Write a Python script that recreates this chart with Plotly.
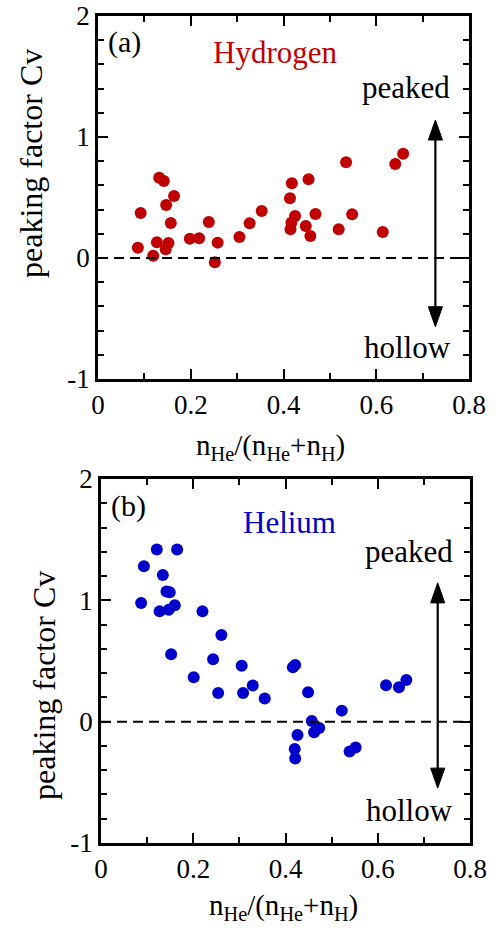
import plotly.graph_objects as go

# ---- data ----
h_x = [0.086, 0.092, 0.119, 0.127, 0.132, 0.142, 0.147, 0.152, 0.146, 0.157, 0.164,
       0.198, 0.218, 0.239, 0.258, 0.252, 0.305, 0.327, 0.353, 0.414, 0.418, 0.415,
       0.417, 0.425, 0.448, 0.454, 0.458, 0.469, 0.519, 0.535, 0.548, 0.614, 0.641, 0.658]
h_y = [0.085, 0.372, 0.019, 0.130, 0.664, 0.636, 0.438, 0.124, 0.072, 0.289, 0.512,
       0.160, 0.163, 0.298, 0.127, -0.036, 0.174, 0.287, 0.388, 0.493, 0.617, 0.237,
       0.292, 0.347, 0.264, 0.650, 0.182, 0.364, 0.237, 0.791, 0.361, 0.215, 0.777, 0.862]

he_x = [0.087, 0.093, 0.121, 0.127, 0.134, 0.142, 0.149, 0.147, 0.160, 0.152, 0.165,
        0.220, 0.201, 0.243, 0.261, 0.254, 0.305, 0.308, 0.329, 0.355, 0.416, 0.421,
        0.426, 0.420, 0.421, 0.449, 0.457, 0.462, 0.473, 0.522, 0.539, 0.552, 0.618,
        0.646, 0.662]
he_y = [0.978, 1.281, 1.419, 0.909, 1.209, 1.072, 1.066, 0.923, 0.959, 0.556, 1.419,
        0.909, 0.366, 0.515, 0.714, 0.237, 0.460, 0.237, 0.298, 0.190, 0.449, 0.468,
        -0.110, -0.226, -0.303, 0.242, 0.006, -0.088, -0.052, 0.091, -0.245, -0.212,
        0.300, 0.284, 0.344]

x_tick_vals = [0, 0.2, 0.4, 0.6, 0.8]
x_tick_text = ["0", "0.2", "0.4", "0.6", "0.8"]
y_tick_vals = [-1, 0, 1, 2]
y_tick_text = ["-1", "0", "1", "2"]

RED = "#c00000"
BLUE = "#0000cc"
FONT = "Liberation Serif, Times New Roman, serif"

W, H = 500, 930
L, T = 98, 16
R = W - 470
B = H - 843
pw, ph = W - L - R, H - T - B


def px_x(p):
    return (p - L) / pw


def px_y(p):
    return (H - B - p) / ph


fig = go.Figure()
fig.add_trace(go.Scatter(x=h_x, y=h_y, mode="markers", xaxis="x", yaxis="y",
                         marker=dict(color=RED, size=12, line=dict(width=0)),
                         showlegend=False))
fig.add_trace(go.Scatter(x=he_x, y=he_y, mode="markers", xaxis="x2", yaxis="y2",
                         marker=dict(color=BLUE, size=12, line=dict(width=0)),
                         showlegend=False))


def xax(domain, anchor):
    return dict(domain=domain, anchor=anchor, range=[0, 0.8], tickvals=x_tick_vals,
                ticktext=x_tick_text, ticks="inside", ticklen=10, tickwidth=2,
                tickcolor="black", showline=True, linecolor="black", linewidth=2.5,
                mirror="ticks", showgrid=False, zeroline=False, automargin=False,
                ticklabeloverflow="allow",
                minor=dict(dtick=0.1, ticks="inside", ticklen=6, tickwidth=2,
                           tickcolor="black", showgrid=False),
                tickfont=dict(family=FONT, size=27, color="black"))


def yax(domain, anchor):
    return dict(domain=domain, anchor=anchor, range=[-1, 2], tickvals=y_tick_vals,
                ticktext=y_tick_text, ticks="inside", ticklen=10, tickwidth=2,
                tickcolor="black", showline=True, linecolor="black", linewidth=2.5,
                mirror="ticks", showgrid=False, zeroline=False, automargin=False,
                ticklabeloverflow="allow",
                minor=dict(dtick=0.2, ticks="inside", ticklen=6, tickwidth=2,
                           tickcolor="black", showgrid=False),
                tickfont=dict(family=FONT, size=27, color="black"))


fig.update_layout(
    template="none",
    width=W, height=H, margin=dict(l=L, r=R, t=T, b=B, pad=0), autosize=False,
    paper_bgcolor="white", plot_bgcolor="white",
    font=dict(family=FONT, color="black"),
    xaxis=xax([0, px_x(469)], "y"),
    yaxis=yax([px_y(379), 1], "x"),
    xaxis2=xax([px_x(101), 1], "y2"),
    yaxis2=yax([0, px_y(479)], "x2"),
)

# double arrows (peaked / hollow): x position, top tip, bottom tip
arrows = [("x", "y", 0.7275, 1.14, -0.568), ("x2", "y2", 0.730, 1.144, -0.548)]
HEAD_LEN = 0.165   # y units (~20 px)
HEAD_HW = 0.0152   # x units (~7 px)

shapes = []
for xr, yr in (("x", "y"), ("x2", "y2")):
    shapes.append(dict(type="line", xref=xr, yref=yr, x0=0, x1=0.8, y0=0, y1=0,
                       line=dict(color="black", width=2, dash="10px,6px")))
for xr, yr, ax_, top, bot in arrows:
    shapes.append(dict(type="line", xref=xr, yref=yr, x0=ax_, x1=ax_,
                       y0=bot + HEAD_LEN * 0.8, y1=top - HEAD_LEN * 0.8,
                       line=dict(color="black", width=2.2)))
    shapes.append(dict(type="path", xref=xr, yref=yr,
                       path=f"M {ax_ - HEAD_HW} {top - HEAD_LEN} L {ax_} {top} "
                            f"L {ax_ + HEAD_HW} {top - HEAD_LEN} Z",
                       fillcolor="black", line=dict(color="black", width=1)))
    shapes.append(dict(type="path", xref=xr, yref=yr,
                       path=f"M {ax_ - HEAD_HW} {bot + HEAD_LEN} L {ax_} {bot} "
                            f"L {ax_ + HEAD_HW} {bot + HEAD_LEN} Z",
                       fillcolor="black", line=dict(color="black", width=1)))
fig.update_layout(shapes=shapes)

C = dict(xanchor="center", yanchor="middle", showarrow=False)
ann = []
ann.append(dict(xref="x", yref="y", x=0.058, y=1.785, text="(a)",
                font=dict(family=FONT, size=30, color="black"), **C))
ann.append(dict(xref="x", yref="y", x=0.381, y=1.70, text="Hydrogen",
                font=dict(family=FONT, size=31, color=RED), **C))
ann.append(dict(xref="x", yref="y", x=0.665, y=1.41, text="peaked",
                font=dict(family=FONT, size=31, color="black"), **C))
ann.append(dict(xref="x", yref="y", x=0.668, y=-0.74, text="hollow",
                font=dict(family=FONT, size=31, color="black"), **C))

ann.append(dict(xref="x2", yref="y2", x=0.060, y=1.777, text="(b)",
                font=dict(family=FONT, size=30, color="black"), **C))
ann.append(dict(xref="x2", yref="y2", x=0.409, y=1.64, text="Helium",
                font=dict(family=FONT, size=31, color=BLUE), **C))
ann.append(dict(xref="x2", yref="y2", x=0.668, y=1.405, text="peaked",
                font=dict(family=FONT, size=31, color="black"), **C))
ann.append(dict(xref="x2", yref="y2", x=0.669, y=-0.73, text="hollow",
                font=dict(family=FONT, size=31, color="black"), **C))

# axis titles
ann.append(dict(xref="paper", yref="paper", x=px_x(31), y=px_y(164), textangle=-90,
                text="peaking factor Cv", font=dict(family=FONT, size=32), **C))
ann.append(dict(xref="paper", yref="paper", x=px_x(44), y=px_y(686), textangle=-90,
                text="peaking factor Cv", font=dict(family=FONT, size=32), **C))
xt = "n<sub>He</sub>/(n<sub>He</sub>+n<sub>H</sub>)"
ann.append(dict(xref="paper", yref="paper", x=px_x(270), y=px_y(447), text=xt,
                font=dict(family=FONT, size=29), **C))
ann.append(dict(xref="paper", yref="paper", x=px_x(283), y=px_y(907), text=xt,
                font=dict(family=FONT, size=29), **C))
fig.update_layout(annotations=ann)

fig.write_html("out.html", config={"displayModeBar": False},
               post_script="document.body.style.margin='0';"
                           "document.body.style.overflow='hidden';")
